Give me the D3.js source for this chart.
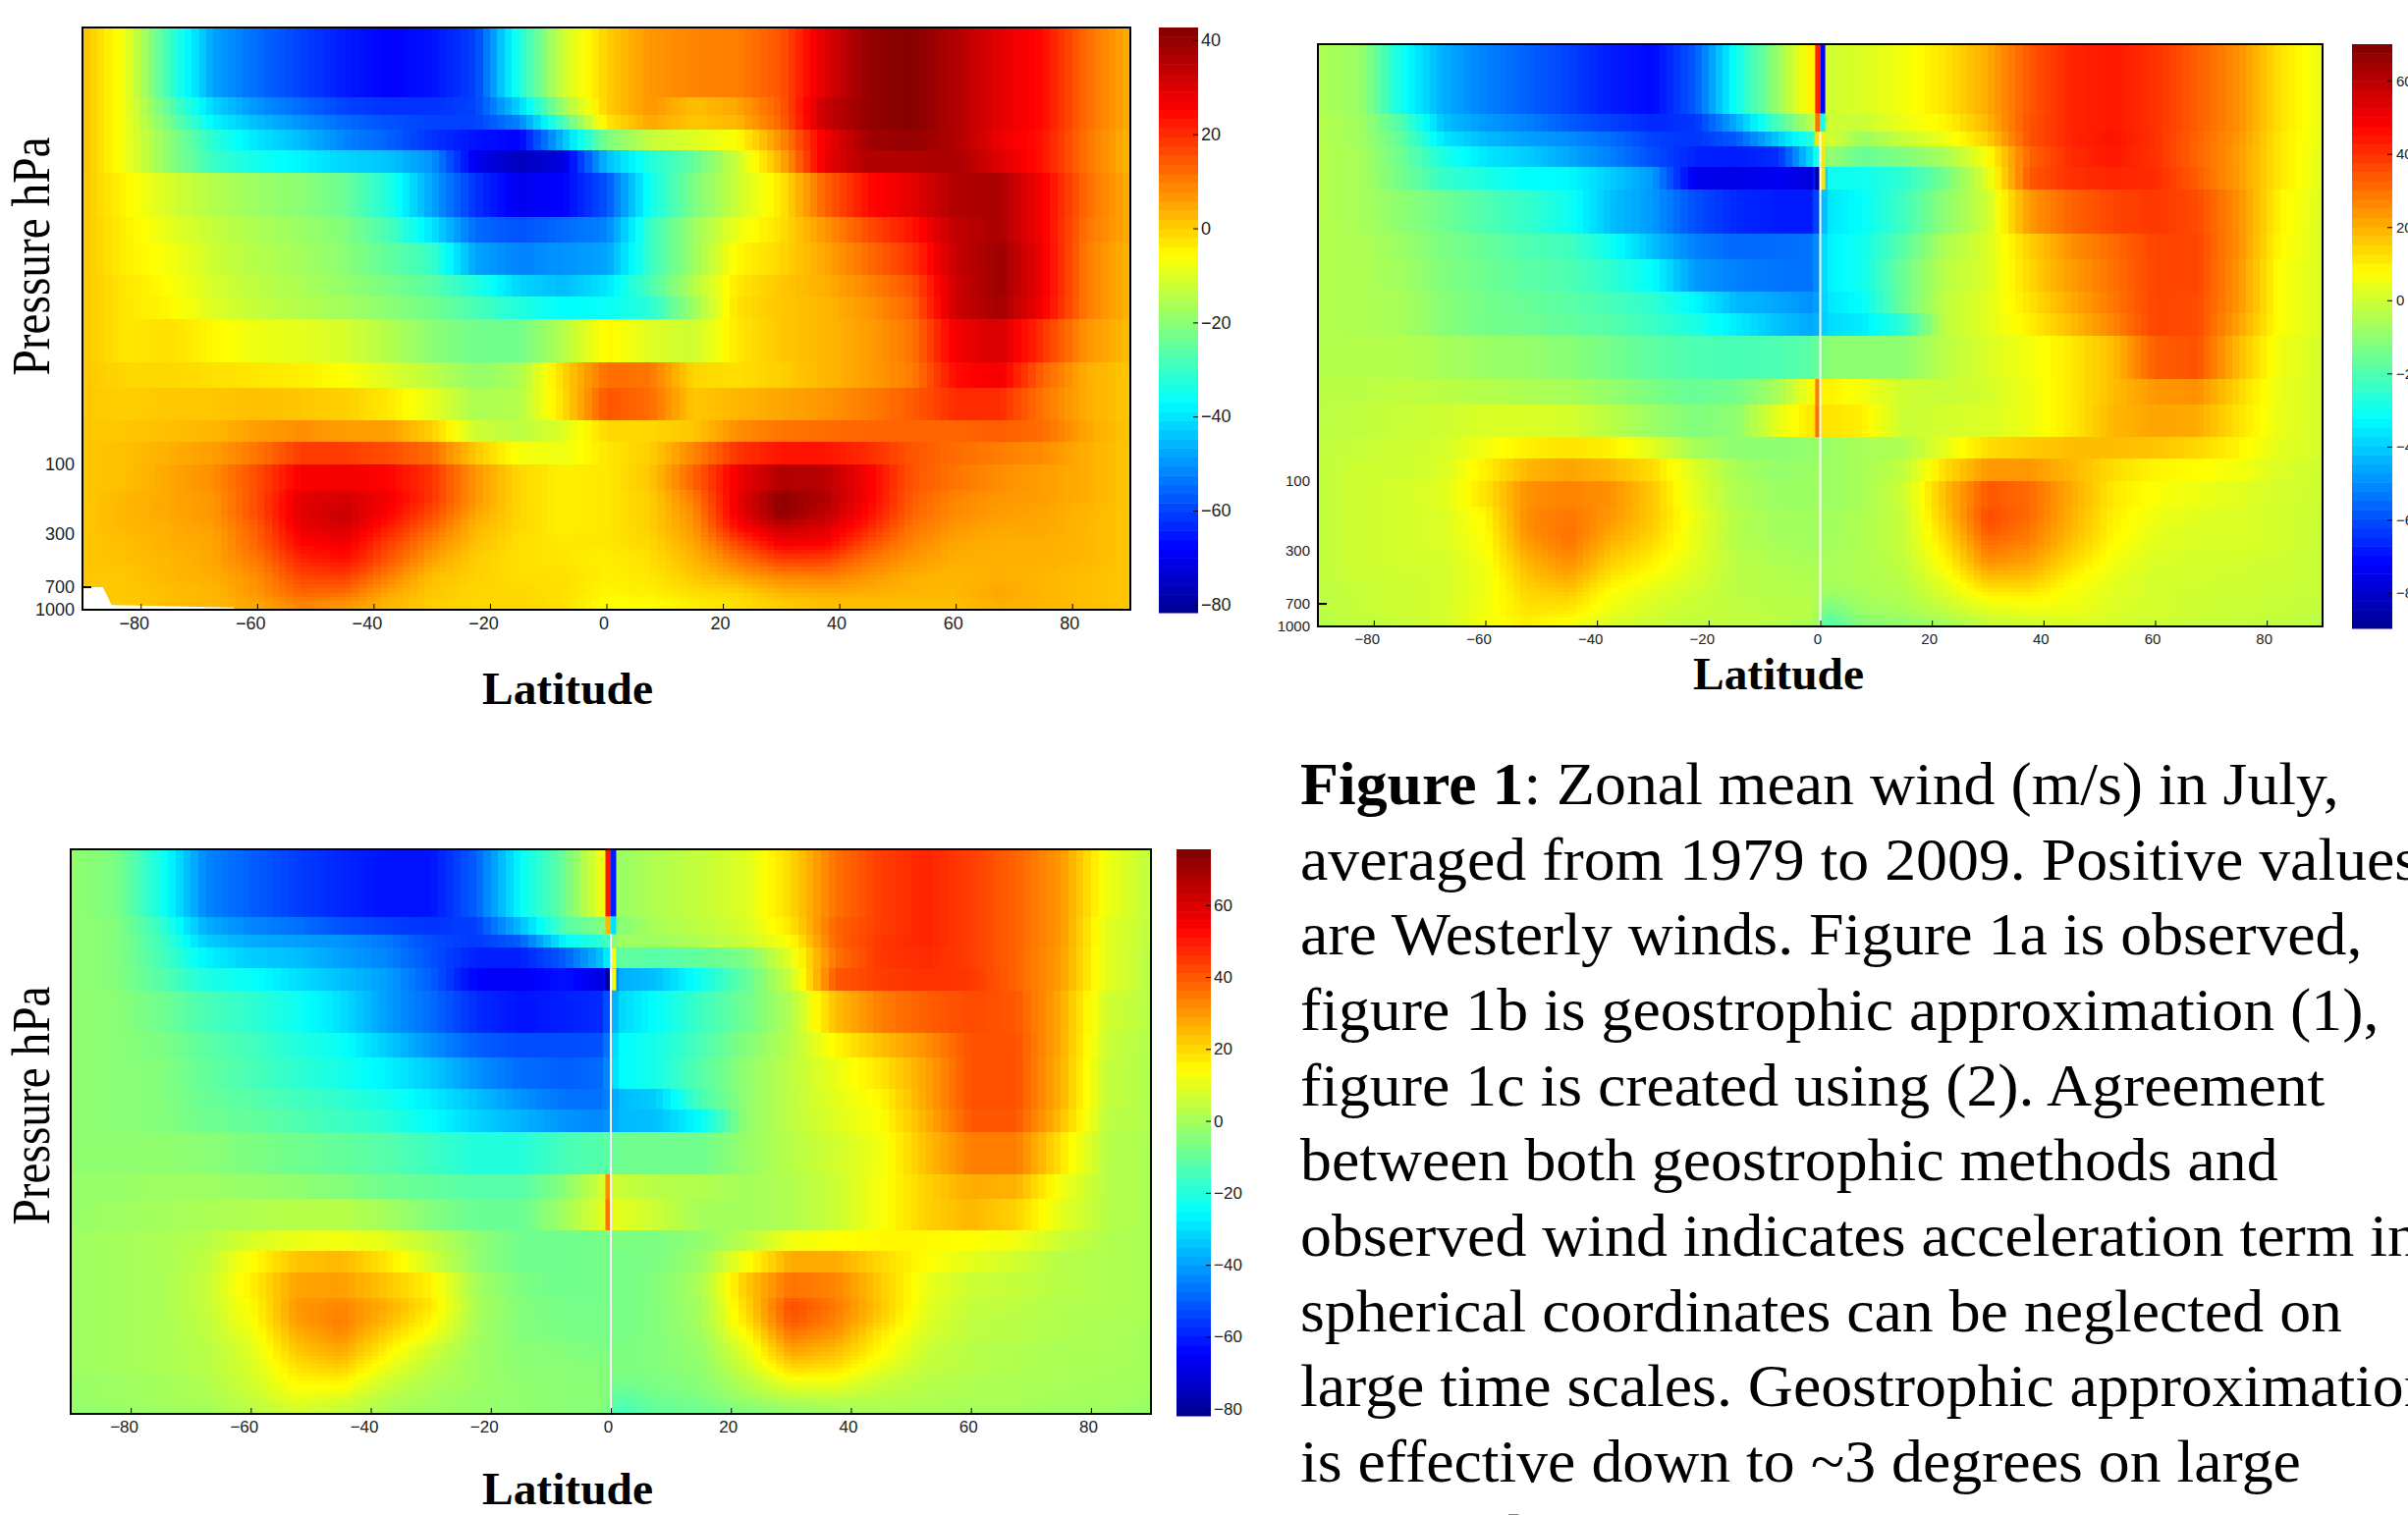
<!DOCTYPE html>
<html>
<head>
<meta charset="utf-8">
<script src="https://cdn.jsdelivr.net/npm/d3@7"></script>
<style>
  body { margin: 0; background: #fff; overflow: hidden; }
  svg { display: block; }
</style>
</head>
<body>
<div id="fig"></div>
<script>
// pressure levels (hPa) = band edges, top of the atmosphere first
var levels = [0.1,0.3,0.4,0.5,0.7,1,2,3,5,7,10,20,30,50,70,100,150,200,250,300,400,500,700,850,1000];

// latitude columns
var latsA = [-90,-82.5,-75,-67.5,-60,-52.5,-45,-37.5,-30,-22.5,-15,-7.5,0,7.5,15,22.5,30,37.5,45,52.5,60,67.5,75,82.5,90];
// 1b and 1c break at the equator so 0 is split in two columns
var latsEq = [-90,-82.5,-75,-67.5,-60,-52.5,-45,-37.5,-30,-22.5,-15,-7.5,-1,1,7.5,15,22.5,30,37.5,45,52.5,60,67.5,75,82.5,90];

// figure 1a, observed wind
var windA = [
  [2,-8,-30,-48,-55,-60,-65,-68,-66,-60,-33,-12,0,7,9,10,15,30,40,42,36,29,24,12,4],
  [2,-8,-26,-42,-50,-55,-60,-62,-62,-60,-42,-18,0,7,2,5,14,33,40,42,36,29,24,12,4],
  [2,-8,-23,-38,-45,-50,-55,-58,-60,-60,-52,-28,-3,5,1,3,13,33,40,42,36,29,24,12,4],
  [2,-8,-20,-32,-40,-45,-52,-56,-62,-66,-68,-45,-22,-13,-10,-6,8,27,38,40,36,28,23,11,3],
  [2,-8,-20,-30,-35,-38,-42,-44,-50,-70,-76,-72,-45,-33,-25,-12,4,28,36,36,37,30,23,11,3],
  [1,-5,-11,-15,-18,-20,-24,-33,-48,-62,-70,-68,-58,-35,-22,-12,-3,13,24,29,36,37,26,12,4],
  [1,-4,-9,-13,-16,-18,-21,-28,-40,-55,-58,-55,-52,-30,-18,-8,-2,7,16,23,34,37,26,11,4],
  [1,-4,-7,-12,-15,-17,-20,-25,-30,-48,-52,-50,-48,-30,-18,-5,-1,5,12,19,33,39,27,10,3],
  [1,-3,-6,-11,-14,-16,-19,-22,-26,-33,-42,-45,-40,-28,-15,-3,1,4,9,15,32,39,27,10,3],
  [1,-3,-5,-10,-13,-15,-17,-20,-23,-28,-33,-37,-36,-32,-18,-2,1,3,7,13,32,38,26,10,3],
  [1,-3,-2,-5,-8,-9,-11,-15,-20,-23,-23,-15,-5,-10,-12,-3,1,3,6,11,27,31,19,7,2],
  [1,-1,-1,-2,-3,-4,-6,-10,-14,-19,-16,-1,12,11,-1,-2,0,3,6,10,24,27,13,4,1],
  [1,0,1,1,2,1,0,-3,-9,-16,-15,-2,15,12,1,3,5,7,10,14,20,20,11,4,1],
  [1,1,2,3,6,8,6,6,0,-12,-14,-10,-1,-1,1,8,11,12,13,13,13,14,12,5,1],
  [1,2,4,6,11,18,18,16,12,1,-7,-8,-3,0,9,19,23,23,20,15,12,10,8,4,1],
  [1,2,5,8,16,26,27,25,19,7,-1,-4,-3,1,13,27,36,35,26,15,11,8,6,4,1],
  [1,3,5,7,16,29,31,27,19,7,-1,-4,-3,0,10,28,41,36,26,14,9,7,6,4,1],
  [1,3,5,7,16,29,33,25,16,5,-1,-4,-3,0,8,27,40,34,24,13,8,6,5,3,1],
  [1,3,4,6,14,28,31,22,13,3,-1,-4,-3,0,7,24,33,30,21,11,7,5,5,3,1],
  [1,2,4,5,13,25,27,18,9,2,-2,-3,-3,-1,5,17,27,26,16,9,5,4,4,3,1],
  [1,2,3,5,11,21,24,15,6,0,-2,-3,-4,-2,3,11,18,18,11,7,4,4,4,3,1],
  [1,1,3,4,8,17,18,10,2,0,-2,-2,-4,-3,1,5,9,10,7,4,3,4,3,2,1],
  [1,1,2,3,7,13,12,5,1,-1,-1,-2,-5,-4,-2,-1,3,4,4,3,3,5,3,2,1],
  [1,0,2,3,5,9,7,3,0,-1,-1,-2,-6,-6,-4,-2,0,2,2,2,2,4,3,2,1]
];

// figure 1b, geostrophic approximation (1)
var windB = [
  [-5,-8,-30,-45,-52,-57,-62,-68,-71,-58,-30,-8,12,0,2,6,12,21,34,42,44,40,33,25,12,4],
  [-4,-7,-20,-42,-48,-52,-58,-62,-66,-64,-45,-20,-2,0,-1,5,9,19,35,42,44,40,33,25,12,4],
  [-4,-7,-17,-36,-43,-47,-50,-55,-62,-64,-58,-40,-25,2,-8,-1,5,15,35,42,45,40,32,24,11,4],
  [-4,-6,-15,-28,-36,-40,-46,-52,-60,-67,-68,-65,-35,-8,-16,-12,-6,7,32,41,44,40,32,23,11,3],
  [-4,-6,-14,-24,-28,-32,-33,-40,-48,-75,-76,-74,-78,-30,-30,-25,-14,3,34,40,42,41,33,23,11,3],
  [-4,-6,-10,-15,-20,-24,-30,-42,-48,-60,-66,-68,-68,-36,-32,-22,-10,0,24,32,37,39,36,25,9,2],
  [-4,-5,-8,-13,-16,-20,-22,-30,-42,-52,-56,-55,-54,-34,-30,-18,-5,2,15,25,31,37,37,25,8,2],
  [-4,-5,-7,-12,-15,-18,-20,-25,-32,-48,-52,-54,-54,-34,-30,-15,-3,2,14,23,30,37,37,24,7,2],
  [-4,-5,-6,-11,-14,-16,-18,-21,-25,-33,-43,-46,-50,-36,-32,-15,-2,3,12,21,29,37,36,24,7,2],
  [-4,-5,-6,-11,-14,-15,-17,-19,-23,-28,-35,-42,-46,-38,-35,-25,-2,3,10,18,27,37,36,22,7,2],
  [-4,-4,-4,-6,-8,-9,-11,-14,-18,-20,-21,-20,-18,-10,-10,-10,-3,2,6,11,18,33,35,18,5,1],
  [-3,-3,-2,-3,-4,-5,-6,-9,-13,-16,-14,-6,8,10,6,0,-1,1,5,11,18,24,25,14,4,1],
  [-3,-2,-1,0,2,2,1,-3,-8,-12,-10,4,12,12,10,-1,1,2,5,11,19,22,21,12,4,1],
  [-2,-1,0,1,6,10,12,10,3,-6,-10,-10,-9,-8,-6,-5,4,13,16,18,18,17,14,9,3,1],
  [-2,0,0,2,10,19,22,19,13,2,-6,-9,-8,-8,-6,-2,13,24,24,19,13,9,8,6,2,0],
  [-2,0,1,3,12,25,27,25,16,3,-5,-8,-8,-8,-6,0,18,34,31,21,11,7,5,3,1,0],
  [-2,0,1,2,9,26,29,24,16,5,-4,-7,-7,-7,-5,-1,17,36,31,20,10,5,3,2,1,-1],
  [-2,0,1,2,8,25,30,22,15,4,-4,-7,-7,-7,-5,-1,14,34,29,19,9,4,2,2,1,-1],
  [-2,0,1,2,7,23,29,19,13,4,-4,-6,-7,-7,-5,-1,12,30,27,17,8,3,2,2,1,-1],
  [-2,0,1,1,6,20,26,16,10,3,-3,-5,-6,-6,-5,-2,9,26,23,14,6,2,1,1,0,-1],
  [-2,0,0,1,5,17,22,12,7,2,-3,-4,-5,-6,-5,-3,6,19,18,10,4,1,1,0,0,-1],
  [-3,-1,0,1,5,14,16,7,3,0,-3,-4,-4,-8,-6,-4,2,10,11,6,3,1,0,0,-1,-1],
  [-3,-1,0,1,6,12,11,5,1,-1,-2,-3,-3,-15,-8,-6,-2,3,5,5,2,1,0,-1,-1,-2],
  [-4,-2,-1,1,6,10,7,2,0,-2,-2,-3,-5,-20,-11,-9,-6,-1,1,2,1,0,-1,-1,-2,-3]
];

// figure 1c, created using (2)
var windC = [
  [-3,-6,-22,-44,-50,-55,-59,-62,-62,-50,-25,-8,14,-2,2,5,9,20,36,44,48,44,38,30,12,4],
  [-3,-5,-17,-38,-44,-47,-52,-55,-57,-55,-35,-12,-5,-5,1,4,8,18,38,44,48,44,38,30,10,4],
  [-3,-5,-15,-33,-38,-40,-42,-46,-53,-56,-50,-25,-18,-1,-1,2,6,14,38,45,48,44,38,30,10,4],
  [-3,-5,-14,-27,-33,-35,-40,-44,-52,-60,-60,-50,-33,-10,-12,-10,-6,10,36,45,47,44,38,29,10,3],
  [-3,-5,-12,-21,-24,-30,-35,-40,-50,-65,-66,-62,-70,-38,-35,-23,-10,6,40,44,46,45,38,29,10,3],
  [-3,-4,-8,-14,-18,-23,-30,-40,-48,-58,-62,-60,-58,-32,-25,-16,-8,2,24,34,39,42,40,27,7,3],
  [-3,-4,-6,-11,-15,-20,-24,-33,-42,-50,-53,-53,-52,-26,-22,-14,-5,3,15,24,31,41,41,27,6,2],
  [-3,-4,-5,-10,-14,-18,-22,-27,-33,-42,-48,-50,-48,-26,-22,-12,-3,4,11,18,28,41,41,26,5,2],
  [-3,-4,-5,-9,-12,-15,-18,-22,-28,-35,-42,-47,-47,-36,-33,-14,-3,4,10,15,28,41,41,26,5,2],
  [-3,-4,-5,-8,-10,-13,-16,-19,-25,-32,-37,-42,-44,-36,-35,-25,-3,4,9,14,26,40,40,24,4,2],
  [-3,-3,-3,-4,-6,-8,-10,-12,-16,-20,-20,-14,-12,-8,-8,-8,-2,3,7,12,24,34,34,18,3,1],
  [-2,-2,-1,-1,-2,-3,-5,-8,-10,-12,-12,-4,8,6,3,2,0,2,6,13,21,27,26,12,3,1],
  [-2,-1,0,1,2,3,3,0,-5,-9,-9,0,10,10,6,0,0,2,6,13,21,25,21,10,3,1],
  [-1,0,1,3,8,11,12,10,4,-3,-8,-8,-7,-6,-6,-3,3,12,14,15,15,14,12,6,2,1],
  [-1,0,1,4,14,23,25,18,7,-3,-8,-8,-7,-7,-6,-1,13,27,27,20,14,10,7,3,2,1],
  [-1,0,1,5,16,28,29,23,16,0,-6,-8,-7,-7,-5,1,22,36,33,22,11,6,5,3,2,1],
  [-1,0,1,5,14,30,33,27,18,1,-5,-7,-7,-7,-5,0,20,42,35,23,10,5,4,2,2,1],
  [-1,0,1,4,13,29,34,25,15,0,-5,-7,-7,-7,-5,0,18,40,33,21,9,4,3,2,1,1],
  [-1,0,1,4,11,26,32,21,12,0,-5,-6,-7,-7,-5,-1,14,35,30,17,8,4,3,2,1,0],
  [-1,0,1,3,9,23,28,17,7,-1,-4,-5,-6,-6,-5,-2,10,29,25,15,6,3,2,1,1,0],
  [-1,0,1,3,8,19,23,12,4,-1,-4,-4,-5,-6,-5,-3,7,22,20,11,5,3,2,1,1,0],
  [-2,-1,0,2,7,15,16,7,2,-1,-3,-4,-4,-7,-6,-4,3,12,12,6,3,2,1,1,0,0],
  [-2,-1,0,1,5,11,9,3,0,-2,-3,-4,-4,-12,-8,-6,-1,3,4,3,2,1,1,0,0,-1],
  [-3,-2,-1,0,3,7,5,1,-1,-2,-3,-4,-5,-15,-10,-8,-5,-2,0,1,1,0,0,-1,-1,-2]
];

// the thin strips on both sides of the equator, one value per band (null = no strip)
var stripLeftB  = [42,30,12,null,-88,null,null,null,null,null,null,28,30,null,null,null,null,null,null,null,null,null,null,null];
var stripRightB = [-72,-30,10,12,12,null,null,null,null,null,null,null,null,null,null,null,null,null,null,null,null,null,null,null];
var stripLeftC  = [50,25,null,null,-85,null,null,null,null,null,null,32,36,null,null,null,null,null,null,null,null,null,null,null];
var stripRightC = [-60,-30,null,12,12,null,null,null,null,null,null,null,null,null,null,null,null,null,null,null,null,null,null,null];

// no data corner in 1a, [lat, hPa]
var missingA = [[-90,700],[-86.5,700],[-85,930],[-64,965],[-64,1000],[-90,1000]];

// ticks
var latTicks = [-80,-60,-40,-20,0,20,40,60,80];
var pressureTicks = [100,300,700,1000];
var barTicksA = [40,20,0,-20,-40,-60,-80];
var barTicksBC = [60,40,20,0,-20,-40,-60,-80];

// caption, one entry per line
var captionLines = [
  "Zonal mean wind (m/s) in July,",
  "averaged from 1979 to 2009. Positive values",
  "are Westerly winds. Figure 1a is observed,",
  "figure 1b is geostrophic approximation (1),",
  "figure 1c is created using (2). Agreement",
  "between both geostrophic methods and",
  "observed wind indicates acceleration term in",
  "spherical coordinates can be neglected on",
  "large time scales. Geostrophic approximation",
  "is effective down to ~3 degrees on large",
  "time scales."
];

var svg = d3.select("#fig")
  .append("svg")
    .attr("width", 2452)
    .attr("height", 1543);

// matlab jet
var jet = d3.scaleLinear()
  .domain([0, 0.11, 0.36, 0.61, 0.86, 1])
  .range(["#00008f", "#0000ff", "#00ffff", "#ffff00", "#ff0000", "#800000"])
  .clamp(true);

var cellStep = 1.25;
var cellLats = d3.range(-90, 90, cellStep);

// rows below 150 hPa fade into each other, the ones above keep their hard edge
var blendFrom = 16;
var subRows = 28;
var nRows = levels.length - 1;
var centers = d3.range(nRows).map(function(i) { return Math.sqrt(levels[i] * levels[i + 1]); });
var rowAt = d3.scaleLog()
  .domain(centers.slice(blendFrom - 1))
  .range(d3.range(blendFrom - 1, nRows))
  .clamp(true);

var strata = [];
d3.range(blendFrom).forEach(function(i) {
  strata.push({p0: levels[i], p1: levels[i + 1], row: i});
});
var logStep = d3.scaleLinear().domain([0, subRows]).range([Math.log10(levels[blendFrom]), 3]);
d3.range(subRows).forEach(function(i) {
  var p0 = Math.pow(10, logStep(i)), p1 = Math.pow(10, logStep(i + 1));
  strata.push({p0: p0, p1: p1, row: rowAt(Math.sqrt(p0 * p1))});
});

function drawPanel(p) {
  var x = d3.scaleLinear().domain([-90, 90]).range([p.left, p.right]);
  var y = d3.scaleLog().domain([0.1, 1000]).range([p.top, p.bottom]);
  var t = d3.scaleLinear().domain(p.range).range([0, 1]);
  var color = function(v) { return jet(t(v)); };
  var rowScales = p.wind.map(function(row) {
    return d3.scaleLinear().domain(p.lats).range(row);
  });

  var g = svg.append("g");

  // one group per stratum, one rect per latitude cell
  var bands = g.append("g").selectAll("g")
    .data(strata)
    .enter().append("g");

  bands.each(function(s) {
    var lo = Math.floor(s.row), hi = Math.min(lo + 1, nRows - 1), f = s.row - lo;
    d3.select(this).selectAll("rect")
      .data(cellLats)
      .enter().append("rect")
        .attr("x", function(d) { return x(d); })
        .attr("y", y(s.p0))
        .attr("width", function(d) { return x(d + cellStep) - x(d); })
        .attr("height", y(s.p1) - y(s.p0))
        .attr("fill", function(d) {
          var c = d + cellStep / 2;
          return color(rowScales[lo](c) * (1 - f) + rowScales[hi](c) * f);
        })
        .attr("shape-rendering", "crispEdges");
  });

  // equator strips and the white line
  if (p.stripLeft) {
    var strips = g.append("g");
    p.stripLeft.forEach(function(v, i) {
      if (v === null) return;
      strips.append("rect")
        .attr("x", x(-0.9)).attr("width", x(0) - x(-0.9))
        .attr("y", y(levels[i])).attr("height", y(levels[i + 1]) - y(levels[i]))
        .attr("fill", color(v));
    });
    p.stripRight.forEach(function(v, i) {
      if (v === null) return;
      strips.append("rect")
        .attr("x", x(0)).attr("width", x(0.9) - x(0))
        .attr("y", y(levels[i])).attr("height", y(levels[i + 1]) - y(levels[i]))
        .attr("fill", color(v));
    });
    g.append("line")
      .attr("x1", x(0)).attr("x2", x(0))
      .attr("y1", y(0.4)).attr("y2", y(1000))
      .attr("stroke", "#fff")
      .attr("stroke-width", 2);
  }

  if (p.missing) {
    g.append("path")
      .attr("d", d3.line().x(function(d) { return x(d[0]); }).y(function(d) { return y(d[1]); })(p.missing) + "Z")
      .attr("fill", "#fff");
  }

  // frame
  g.append("rect")
    .attr("x", p.left).attr("y", p.top)
    .attr("width", p.right - p.left).attr("height", p.bottom - p.top)
    .attr("fill", "none")
    .attr("stroke", "#000")
    .attr("stroke-width", 2);

  // X axis
  var xAxis = g.append("g")
    .attr("transform", "translate(0," + p.bottom + ")")
    .call(d3.axisBottom(x).tickValues(latTicks).tickSize(-6).tickPadding(p.padX));
  xAxis.select(".domain").remove();
  xAxis.selectAll("text")
    .attr("dx", function(d) { return d < 0 ? -7 : -3; })
    .style("font-family", "Liberation Sans")
    .style("font-size", p.font + "px")
    .attr("fill", "#222");

  // Y axis, not labelled in 1c
  if (p.yLabels) {
    var yAxis = g.append("g")
      .attr("transform", "translate(" + p.left + ",0)")
      .call(d3.axisLeft(y).tickValues(pressureTicks).tickFormat(d3.format("d")).tickSize(0).tickPadding(8));
    yAxis.select(".domain").remove();
    yAxis.selectAll("text")
      .style("font-family", "Liberation Sans")
      .style("font-size", p.font + "px")
      .attr("fill", "#222");
    g.append("line")
      .attr("x1", p.left).attr("x2", p.left + 9)
      .attr("y1", y(700)).attr("y2", y(700))
      .attr("stroke", "#000").attr("stroke-width", 2);
  }

  // colorbar
  var barY = d3.scaleLinear().domain(p.range).range([p.barBottom, p.top]);
  var stripes = d3.range(64);
  var barH = (p.barBottom - p.top) / 64;
  g.append("g").selectAll("rect")
    .data(stripes)
    .enter().append("rect")
      .attr("x", p.barLeft)
      .attr("y", function(d) { return p.barBottom - (d + 1) * barH; })
      .attr("width", p.barRight - p.barLeft)
      .attr("height", barH + 0.5)
      .attr("fill", function(d) { return jet((d + 0.5) / 64); });

  var barAxis = g.append("g")
    .attr("transform", "translate(" + p.barRight + ",0)")
    .call(d3.axisRight(barY).tickValues(p.barTicks).tickSize(-5).tickPadding(p.barPad));
  barAxis.select(".domain").remove();
  barAxis.selectAll("text")
    .style("font-family", "Liberation Sans")
    .style("font-size", p.barFont + "px")
    .attr("fill", "#222");

  // titles
  g.append("text")
    .attr("x", p.titleX).attr("y", p.titleY)
    .attr("text-anchor", "middle")
    .attr("textLength", 174)
    .attr("lengthAdjust", "spacingAndGlyphs")
    .style("font-family", "Liberation Serif")
    .style("font-weight", "bold")
    .style("font-size", "47px")
    .text("Latitude");

  if (p.pressureY) {
    g.append("text")
      .attr("transform", "translate(50," + p.pressureY + ")rotate(-90)")
      .attr("text-anchor", "middle")
      .attr("textLength", 243)
      .attr("lengthAdjust", "spacingAndGlyphs")
      .style("font-family", "Liberation Serif")
      .style("font-size", "55px")
      .text("Pressure hPa");
  }
}

drawPanel({
  wind: windA, lats: latsA, missing: missingA,
  range: [-81.7, 42.7], barTicks: barTicksA,
  left: 84, right: 1151, top: 28, bottom: 621,
  barLeft: 1180, barRight: 1220, barBottom: 624, barFont: 18, barPad: 3,
  font: 18, padX: 7, yLabels: true,
  titleX: 578, titleY: 717, pressureY: 261
});

drawPanel({
  wind: windB, lats: latsEq, stripLeft: stripLeftB, stripRight: stripRightB,
  range: [-89.7, 70], barTicks: barTicksBC,
  left: 1342, right: 2365, top: 45, bottom: 638,
  barLeft: 2395, barRight: 2436, barBottom: 640, barFont: 15, barPad: 4,
  font: 15, padX: 7, yLabels: true,
  titleX: 1811, titleY: 702
});

drawPanel({
  wind: windC, lats: latsEq, stripLeft: stripLeftC, stripRight: stripRightC,
  range: [-82, 75.5], barTicks: barTicksBC,
  left: 72, right: 1172, top: 865, bottom: 1440,
  barLeft: 1198, barRight: 1233, barBottom: 1442, barFont: 17, barPad: 3,
  font: 17, padX: 7, yLabels: false,
  titleX: 578, titleY: 1532, pressureY: 1126
});

// caption, the original is a bit wider than the font
var caption = svg.append("g")
  .attr("transform", "translate(1324,0)scale(1.046,1)")
  .style("font-family", "Liberation Serif")
  .style("font-size", "61px");

captionLines.forEach(function(line, i) {
  var txt = caption.append("text")
    .attr("x", 0)
    .attr("y", 819 + i * 76.65);
  if (i === 0) {
    txt.append("tspan").style("font-weight", "bold").text("Figure 1");
    txt.append("tspan").text(": " + line);
  } else {
    txt.text(line);
  }
});
</script>
</body>
</html>
